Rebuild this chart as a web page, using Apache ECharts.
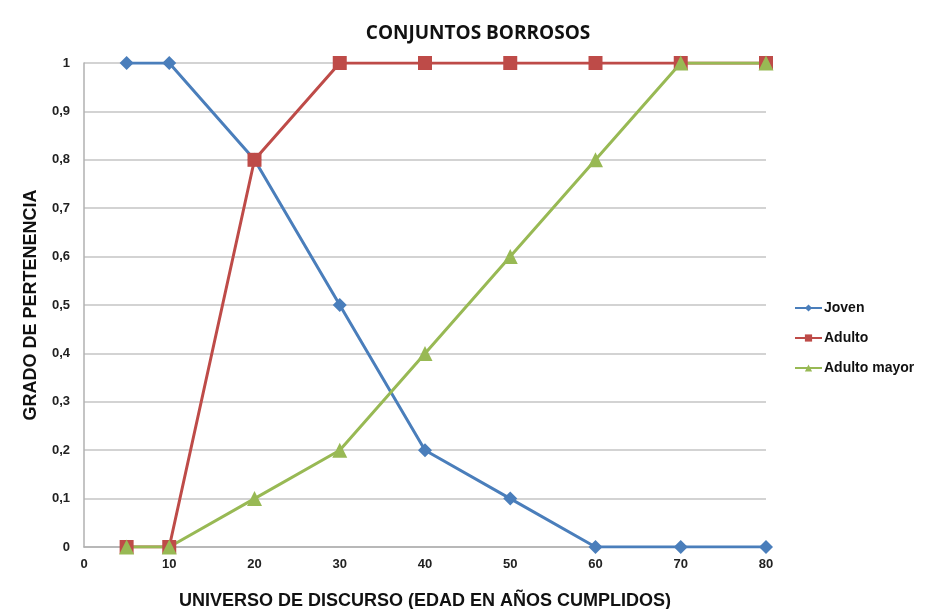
<!DOCTYPE html>
<html>
<head>
<meta charset="utf-8">
<script src="https://cdn.jsdelivr.net/npm/echarts@6/dist/echarts.min.js"></script>
<style>
html, body { margin: 0; padding: 0; background: #fff; }
#chart { width: 945px; height: 609px; }
</style>
</head>
<body>
<div id="chart"></div>
<script>
// edades (eje x) y grado de pertenencia de cada conjunto
var edades = [5, 10, 20, 30, 40, 50, 60, 70, 80];
var joven = [1, 1, 0.8, 0.5, 0.2, 0.1, 0, 0, 0];
var adulto = [0, 0, 0.8, 1, 1, 1, 1, 1, 1];
var adultoMayor = [0, 0, 0.1, 0.2, 0.4, 0.6, 0.8, 1, 1];

function pares(vals) {
    return edades.map(function (e, i) { return [e, vals[i]]; });
}

var chart = echarts.init(document.getElementById('chart'));

var fuente = 'Liberation Sans, Arial, sans-serif';

var option = {
    backgroundColor: '#fff',
    animation: false,
    title: {
        text: 'CONJUNTOS BORROSOS',
        left: 473,
        textAlign: 'center',
        top: 19,
        textStyle: { fontSize: 19, fontWeight: 'bold', color: '#111', fontFamily: 'Open Sans, sans-serif' }
    },
    legend: {
        orient: 'vertical',
        left: 789,
        top: 296,
        itemGap: 16,
        itemWidth: 27,
        itemHeight: 9,
        textStyle: { fontSize: 14, fontWeight: 'bold', color: '#111', fontFamily: fuente, padding: [0, 0, 0, -3] },
        data: ['Joven', 'Adulto', 'Adulto mayor']
    },
    grid: { left: 84, right: 179, top: 63, bottom: 62, outerBoundsMode: 'none', containLabel: false },
    xAxis: {
        type: 'value',
        min: 0,
        max: 80,
        interval: 10,
        name: 'UNIVERSO DE DISCURSO (EDAD EN AÑOS CUMPLIDOS)',
        nameLocation: 'middle',
        nameGap: 45,
        nameTextStyle: { fontSize: 18, fontWeight: 'bold', color: '#111', fontFamily: fuente },
        axisLine: { lineStyle: { color: '#b0b0b0', width: 1.5 } },
        axisTick: { show: false },
        splitLine: { show: false },
        axisLabel: { margin: 11, fontSize: 13, fontWeight: 'bold', color: '#222', fontFamily: fuente }
    },
    yAxis: {
        type: 'value',
        min: 0,
        max: 1,
        interval: 0.1,
        name: 'GRADO DE PERTENENCIA',
        nameLocation: 'middle',
        nameGap: 44,
        nameTextStyle: { fontSize: 18, fontWeight: 'bold', color: '#111', fontFamily: fuente },
        axisLine: { show: true, lineStyle: { color: '#b0b0b0', width: 1.5 } },
        axisTick: { show: false },
        splitLine: { lineStyle: { color: '#c4c4c4', width: 1.5 } },
        axisLabel: {
            margin: 14,
            fontSize: 13,
            fontWeight: 'bold',
            color: '#222',
            fontFamily: fuente,
            formatter: function (v) {
                if (v === 0 || v === 1) return String(v);
                return v.toFixed(1).replace('.', ',');
            }
        }
    },
    series: [
        {
            name: 'Joven',
            type: 'line',
            data: pares(joven),
            symbol: 'diamond',
            symbolSize: 14,
            itemStyle: { color: '#4a7ebb' },
            lineStyle: { color: '#4a7ebb', width: 3 }
        },
        {
            name: 'Adulto',
            type: 'line',
            data: pares(adulto),
            symbol: 'rect',
            symbolSize: 14,
            itemStyle: { color: '#be4b48' },
            lineStyle: { color: '#be4b48', width: 3 }
        },
        {
            name: 'Adulto mayor',
            type: 'line',
            data: pares(adultoMayor),
            symbol: 'triangle',
            symbolSize: 15,
            itemStyle: { color: '#98b954' },
            lineStyle: { color: '#98b954', width: 3 }
        }
    ]
};

chart.setOption(option);
</script>
</body>
</html>
